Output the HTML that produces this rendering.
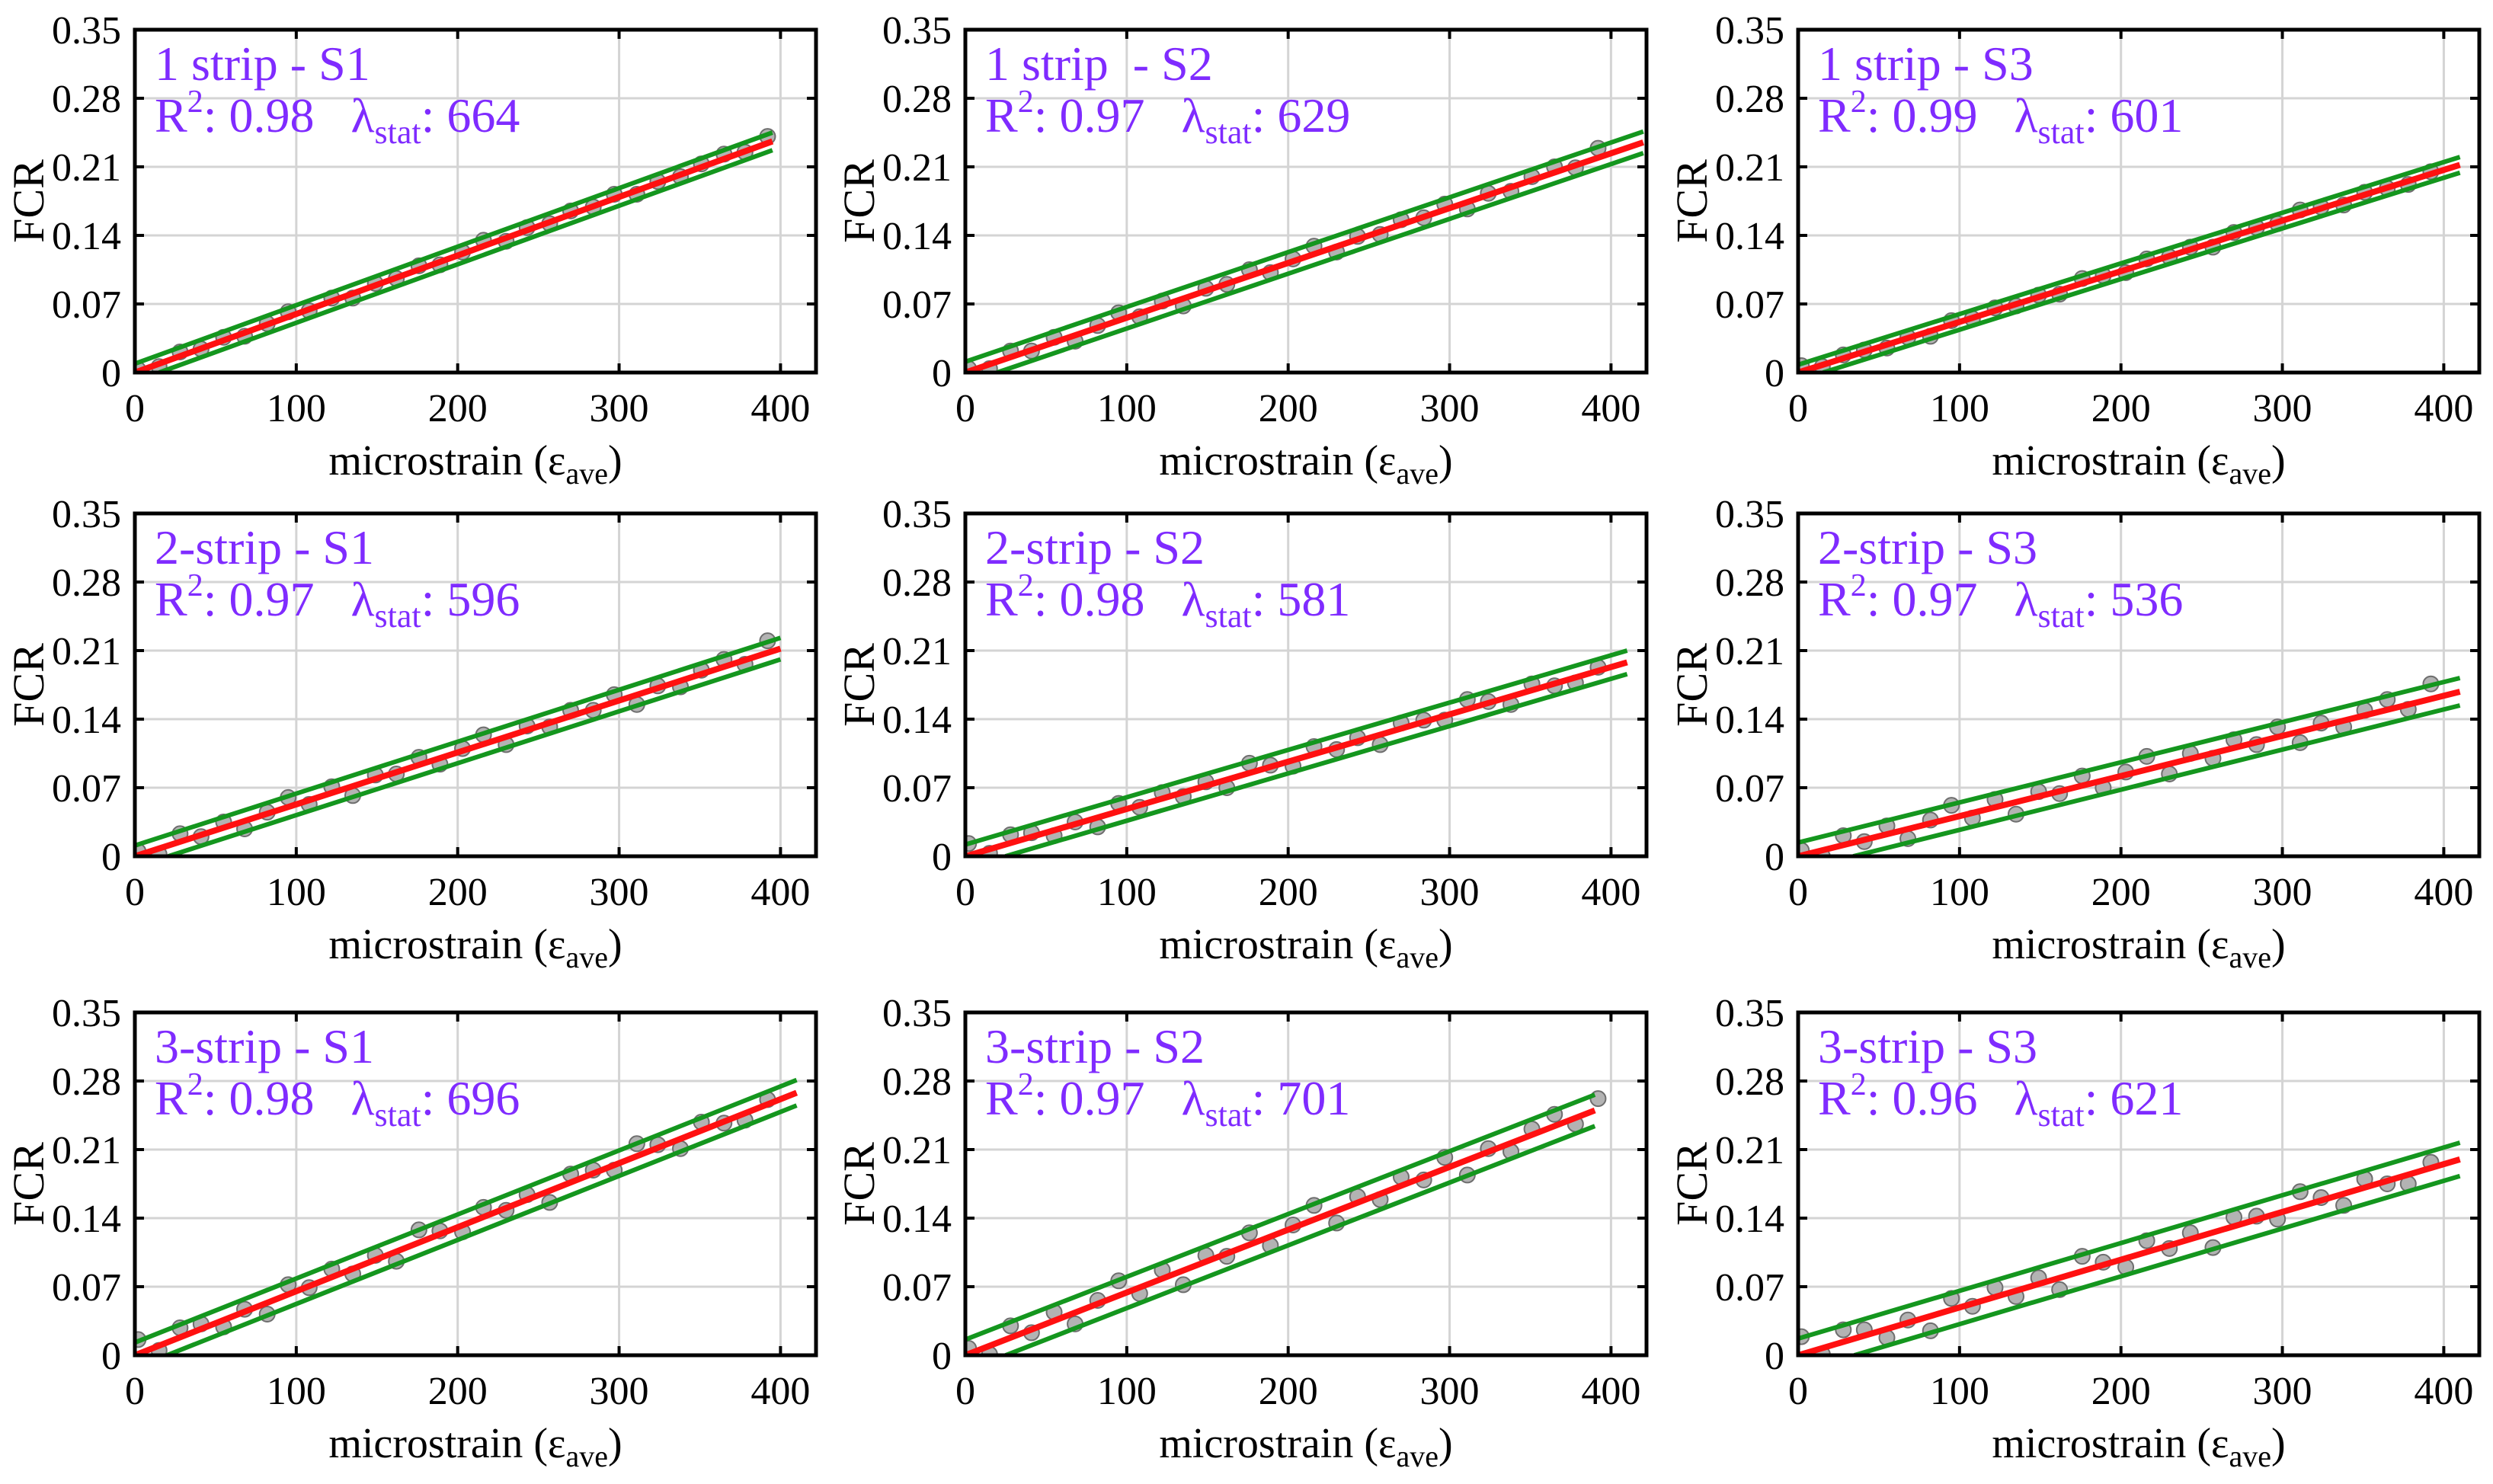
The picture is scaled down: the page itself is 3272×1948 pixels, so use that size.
<!DOCTYPE html>
<html><head><meta charset="utf-8"><style>
html,body{margin:0;padding:0;background:#fff;}
svg{display:block;}
text{font-family:"Liberation Serif",serif;white-space:pre;}
</style></head><body>
<svg id="fig" width="3272" height="1948" viewBox="0 0 3272 1948" xmlns="http://www.w3.org/2000/svg"></svg>
<script>
// ---- data ----
const xTicks = [0,100,200,300,400];
const yTicks = [0,0.07,0.14,0.21,0.28,0.35];
const yTickLabels = ["0","0.07","0.14","0.21","0.28","0.35"];
const xTickLabels = ["0","100","200","300","400"];
const panelTitles = ["1 strip - S1","1 strip\u00a0\u00a0- S2","1 strip - S3","2-strip - S1","2-strip - S2","2-strip - S3","3-strip - S1","3-strip - S2","3-strip - S3"];
const r2Values = ["0.98","0.97","0.99","0.97","0.98","0.97","0.98","0.97","0.96"];
const lambdaValues = ["664","629","601","596","581","536","696","701","621"];
const fitEndX = [395,420,410,400,410,410,410,390,410];
const fitEndY = [0.236,0.235,0.212,0.212,0.198,0.168,0.268,0.250,0.200];
const bandHalf = [0.009,0.011,0.008,0.011,0.012,0.014,0.013,0.016,0.017];
const pointX = [2,15,28,41,55,68,82,95,108,122,135,149,162,176,189,203,216,230,243,257,270,284,297,311,324,338,351,365,378,392];
const pointY1 = [0.003,0.006,0.021,0.024,0.036,0.037,0.050,0.062,0.063,0.076,0.076,0.091,0.096,0.109,0.110,0.123,0.135,0.134,0.148,0.152,0.165,0.169,0.182,0.182,0.195,0.200,0.213,0.223,0.225,0.241];
const pointY2 = [0.004,0.004,0.022,0.022,0.036,0.032,0.048,0.061,0.057,0.073,0.068,0.086,0.090,0.105,0.102,0.116,0.129,0.123,0.139,0.141,0.156,0.158,0.172,0.167,0.183,0.185,0.200,0.210,0.209,0.229];
const pointY3 = [0.007,0.006,0.018,0.023,0.025,0.036,0.037,0.053,0.055,0.066,0.068,0.079,0.080,0.096,0.099,0.102,0.116,0.118,0.128,0.128,0.143,0.148,0.152,0.166,0.169,0.171,0.184,0.188,0.192,0.205];
const pointY4 = [0.005,0.002,0.023,0.020,0.035,0.028,0.045,0.060,0.053,0.071,0.062,0.083,0.084,0.101,0.094,0.110,0.124,0.114,0.133,0.132,0.149,0.149,0.165,0.155,0.174,0.173,0.190,0.201,0.196,0.220];
const pointY5 = [0.013,0.003,0.022,0.024,0.021,0.035,0.030,0.054,0.050,0.065,0.061,0.076,0.070,0.095,0.093,0.092,0.112,0.109,0.121,0.114,0.136,0.139,0.139,0.160,0.158,0.155,0.176,0.174,0.177,0.193];
const pointY6 = [0.006,0.000,0.021,0.015,0.031,0.018,0.037,0.052,0.039,0.058,0.043,0.066,0.064,0.082,0.070,0.086,0.102,0.084,0.105,0.100,0.119,0.114,0.132,0.116,0.136,0.132,0.149,0.160,0.150,0.176];
const pointY7 = [0.016,0.005,0.028,0.032,0.029,0.047,0.042,0.072,0.069,0.088,0.083,0.102,0.096,0.128,0.127,0.126,0.151,0.148,0.164,0.156,0.185,0.189,0.189,0.216,0.215,0.211,0.238,0.237,0.240,0.261];
const pointY8 = [0.007,0.001,0.030,0.023,0.044,0.032,0.056,0.076,0.063,0.087,0.072,0.102,0.101,0.125,0.112,0.133,0.153,0.135,0.162,0.159,0.182,0.179,0.202,0.184,0.211,0.208,0.231,0.246,0.236,0.262];
const pointY9 = [0.019,0.001,0.026,0.026,0.018,0.036,0.025,0.058,0.050,0.069,0.060,0.079,0.067,0.101,0.095,0.090,0.117,0.109,0.125,0.110,0.141,0.142,0.139,0.167,0.161,0.153,0.180,0.175,0.175,0.197];
const allPointY = [pointY1,pointY2,pointY3,pointY4,pointY5,pointY6,pointY7,pointY8,pointY9];

// ---- layout ----
const colLeft = [177,1267,2360];
const rowTop = [39,674,1329];
const PW = 894, PH = 450, XMAX = 422, YMAX = 0.35;
const NS = "http://www.w3.org/2000/svg";
const svg = document.getElementById('fig');
function mk(tag, attrs, parent){
  const e = document.createElementNS(NS, tag);
  for (const k in attrs) e.setAttribute(k, attrs[k]);
  (parent||svg).appendChild(e);
  return e;
}

for (let p = 0; p < 9; p++) {
  const L = colLeft[p%3], T = rowTop[Math.floor(p/3)];
  const sx = v => L + v / XMAX * PW;
  const sy = v => T + PH - v / YMAX * PH;
  const g = mk('g', {});
  
  
  const clipId = 'clip' + p;
  const cp = mk('clipPath', {id: clipId}, g);
  mk('rect', {x: L, y: T, width: PW, height: PH}, cp);

  const grid = mk('g', {stroke: '#d4d4d4', 'stroke-width': 3}, g);
  
  
  xTicks.forEach(v => mk('line', {x1: sx(v), x2: sx(v), y1: T, y2: T+PH}, grid));
  yTicks.forEach(v => mk('line', {x1: L, x2: L+PW, y1: sy(v), y2: sy(v)}, grid));

  const dg = mk('g', {'clip-path': 'url(#' + clipId + ')'}, g);
  const pts = mk('g', {fill: '#b3b3b3', stroke: '#6e6e6e', 'stroke-width': 2}, dg);
  
  
  const ys = allPointY[p];
  pointX.forEach((x, i) => {
    const c = mk('circle', {cx: sx(x), cy: sy(ys[i]), r: 10}, pts);
    
    
  });
  const ex = fitEndX[p], ey = fitEndY[p], b = bandHalf[p];
  const up = mk('line', {x1: sx(0), y1: sy(b), x2: sx(ex), y2: sy(ey + b), stroke: '#14961e', 'stroke-width': 6}, dg);
  
  
  const x0 = b / ey * ex;
  const lo = mk('line', {x1: sx(x0), y1: sy(0), x2: sx(ex), y2: sy(ey - b), stroke: '#14961e', 'stroke-width': 6}, dg);
  
  
  const fit = mk('line', {x1: sx(0), y1: sy(0), x2: sx(ex), y2: sy(ey), stroke: '#ff1010', 'stroke-width': 8}, dg);
  
  

  const tk = mk('g', {stroke: '#000', 'stroke-width': 4}, g);
  xTicks.forEach(v => { mk('line', {x1: sx(v), x2: sx(v), y1: T+PH, y2: T+PH-12}, tk); mk('line', {x1: sx(v), x2: sx(v), y1: T, y2: T+12}, tk); });
  yTicks.forEach(v => { mk('line', {x1: L, x2: L+12, y1: sy(v), y2: sy(v)}, tk); mk('line', {x1: L+PW, x2: L+PW-12, y1: sy(v), y2: sy(v)}, tk); });
  const fr = mk('rect', {x: L, y: T, width: PW, height: PH, fill: 'none', stroke: '#000', 'stroke-width': 5}, g);
  
  

  xTicks.forEach((v, i) => {
    const t = mk('text', {x: sx(v), y: T+PH+64, 'font-size': 52, 'text-anchor': 'middle'}, g);
    t.textContent = xTickLabels[i];
    
    
  });
  yTicks.forEach((v, i) => {
    const t = mk('text', {x: L-18, y: sy(v)+18, 'font-size': 52, 'text-anchor': 'end'}, g);
    t.textContent = yTickLabels[i];
    
    
  });
  const xt = mk('text', {x: L+PW/2, y: T+PH+134, 'font-size': 56, 'text-anchor': 'middle'}, g);
  xt.innerHTML = 'microstrain (ε<tspan font-size="40" dy="12">ave</tspan><tspan dy="-12">)</tspan>';
  
  
  const yt = mk('text', {x: 0, y: 0, 'font-size': 58, 'text-anchor': 'middle', transform: 'translate(' + (L-120) + ',' + (T+PH/2) + ') rotate(-90)'}, g);
  yt.textContent = 'FCR';
  
  

  const an = mk('g', {fill: '#7f2bff', 'font-family': 'Liberation Serif, serif', transform: 'translate(' + (L+26) + ',' + T + ')'}, g);
  
  
  const t1 = mk('text', {x: 0, y: 66, 'font-size': 64}, an);
  t1.textContent = panelTitles[p];
  
  
  const t2 = mk('text', {x: 0, y: 134, 'font-size': 64}, an);
  t2.innerHTML = 'R<tspan font-size="42" dy="-26">2</tspan><tspan dy="26">: ' + r2Values[p] + '\u00a0\u00a0\u00a0λ</tspan><tspan font-size="44" dy="15">stat</tspan><tspan dy="-15">: ' + lambdaValues[p] + '</tspan>';
  
  
}
</script>
</body></html>
